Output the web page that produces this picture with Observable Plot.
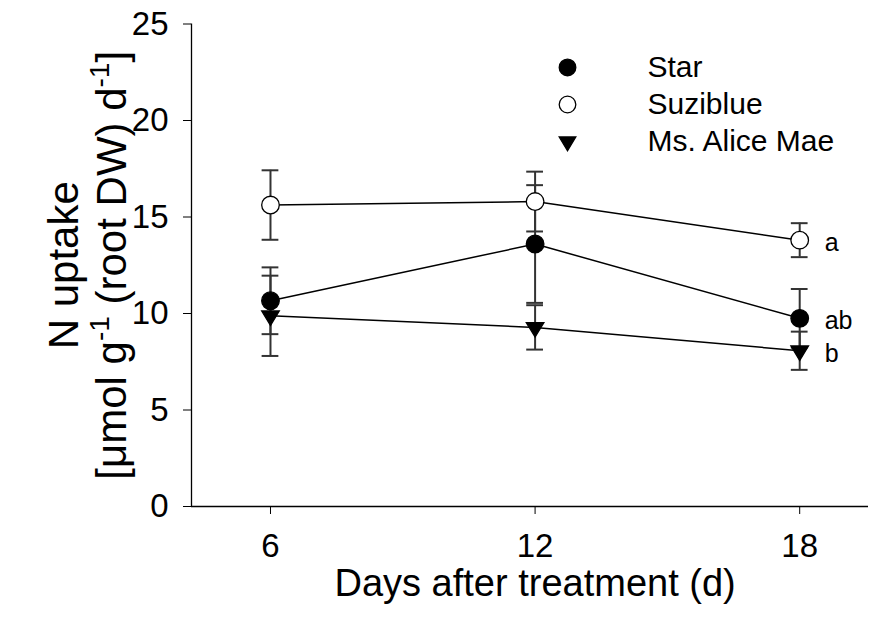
<!DOCTYPE html>
<html><head><meta charset="utf-8">
<script src="https://cdn.jsdelivr.net/npm/d3@7"></script>
<script src="https://cdn.jsdelivr.net/npm/@observablehq/plot@0.6"></script>
<style>
body{margin:0;background:#fff;}
#chart svg{font-family:"Liberation Sans", Arial, sans-serif;}
</style>
</head><body><div id="chart"></div>
<script>
const days = [6, 12, 18];
const cultivars = ["Star", "Suziblue", "Ms. Alice Mae"];
const starMean = [10.66, 13.6, 9.75];
const starSE = [1.73, 3.05, 1.52];
const suziMean = [15.62, 15.8, 13.8];
const suziSE = [1.8, 1.55, 0.88];
const maeMean = [9.88, 9.28, 8.07];
const maeSE = [2.08, 1.15, 0.99];
const sigLetters = ["ab", "a", "b"];
const yTicks = [0, 5, 10, 15, 20, 25];
const xTicks = [6, 12, 18];
const xTitle = "Days after treatment (d)";
const yTitle1 = "N uptake";
const yTitle2 = "[\u03bcmol g-1 (root DW) d-1]";

const means = [starMean, suziMean, maeMean];
const ses = [starSE, suziSE, maeSE];
const rows = [];
cultivars.forEach((c, i) => days.forEach((d, j) => rows.push({cultivar: c, day: d, mean: means[i][j], se: ses[i][j]})));
const lastRows = cultivars.map((c, i) => ({cultivar: c, day: days[2], mean: means[i][2], letter: sigLetters[i]}));

const triDown = {
  draw(ctx, size) {
    const r = Math.sqrt(size / Math.PI);
    const w = r * 1.0, h = r * 1.65;
    ctx.moveTo(-w, -h / 3);
    ctx.lineTo(w, -h / 3);
    ctx.lineTo(0, 2 * h / 3);
    ctx.closePath();
  }
};
const styleOf = {
  "Star": {symbol: "circle", fill: "black"},
  "Suziblue": {symbol: "circle", fill: "white"},
  "Ms. Alice Mae": {symbol: triDown, fill: "black"}
};

const xMin = 4.209, xMax = 19.56;
const legendRows = cultivars.map((c, i) => ({cultivar: c, x: 12.735, y: 22.75 - i * 1.92}));
const capHalf = 0.19;

const marks = [
  Plot.ruleY([0], {stroke: "black", strokeWidth: 1.3}),
  Plot.ruleX([xMin], {y1: 0, y2: 25, stroke: "black", strokeWidth: 1.3}),
  Plot.axisY({ticks: yTicks, tickSize: 8, tickPadding: 15, fontSize: 33, label: null}),
  Plot.axisX({ticks: xTicks, tickSize: 8, tickPadding: 19, fontSize: 33, label: null}),
  // error bars
  Plot.ruleX(rows, {x: "day", y1: d => d.mean - d.se, y2: d => d.mean + d.se, stroke: "#333", strokeWidth: 2}),
  Plot.ruleY(rows, {y: d => d.mean + d.se, x1: d => d.day - capHalf, x2: d => d.day + capHalf, stroke: "#333", strokeWidth: 2}),
  Plot.ruleY(rows, {y: d => d.mean - d.se, x1: d => d.day - capHalf, x2: d => d.day + capHalf, stroke: "#333", strokeWidth: 2}),
  // lines
  Plot.line(rows, {x: "day", y: "mean", z: "cultivar", stroke: "black", strokeWidth: 1.5}),
];
cultivars.forEach(c => {
  const s = styleOf[c];
  marks.push(Plot.dot(rows.filter(d => d.cultivar === c), {x: "day", y: "mean", r: 8.8, symbol: () => s.symbol, fill: s.fill, stroke: "black", strokeWidth: 1.3}));
  marks.push(Plot.dot(legendRows.filter(d => d.cultivar === c), {x: "x", y: "y", r: 8.3, symbol: () => s.symbol, fill: s.fill, stroke: "black", strokeWidth: 1.3}));
});
marks.push(
  Plot.text(legendRows, {x: "x", y: "y", text: "cultivar", dx: 80, textAnchor: "start", fontSize: 30, fill: "black"}),
  Plot.text(lastRows, {x: "day", y: "mean", text: "letter", dx: 25, dy: 3, textAnchor: "start", fontSize: 25, fill: "black"}),
  Plot.text([xTitle], {x: () => 12, frameAnchor: "bottom", dy: 89, lineAnchor: "bottom", fontSize: 38, fill: "black"}),
  Plot.text([yTitle1], {frameAnchor: "left", textAnchor: "middle", rotate: -90, dx: -114, lineAnchor: "bottom", fontSize: 42, fill: "black"}),
  Plot.text([yTitle2], {frameAnchor: "left", textAnchor: "middle", rotate: -90, dx: -66, lineAnchor: "bottom", fontSize: 42, fill: "black"})
);

const chart = Plot.plot({
  width: 869,
  height: 628,
  marginLeft: 191,
  marginRight: 1,
  marginTop: 23.5,
  marginBottom: 122,
  style: {fontFamily: "Liberation Sans, Arial, sans-serif", background: "white", color: "black", overflow: "visible"},
  x: {domain: [xMin, xMax]},
  y: {domain: [0, 25]},
  symbol: {type: "identity"},
  marks
});
document.getElementById("chart").appendChild(chart);

// superscripts in y title
d3.select(chart).selectAll("text").filter(function() { return this.textContent === yTitle2; }).each(function() {
  const t = d3.select(this);
  t.text(null);
  const parts = [["[\u03bcmol g", 0], ["-1", 1], [" (root DW) d", 0], ["-1", 1], ["]", 0]];
  let prevSup = false;
  parts.forEach(([s, sup]) => {
    const ts = t.append("tspan").text(s);
    if (sup) { ts.attr("font-size", 28).attr("dy", -17); }
    else if (prevSup) { ts.attr("dy", 17); }
    prevSup = !!sup;
  });
});
</script>
</body></html>
